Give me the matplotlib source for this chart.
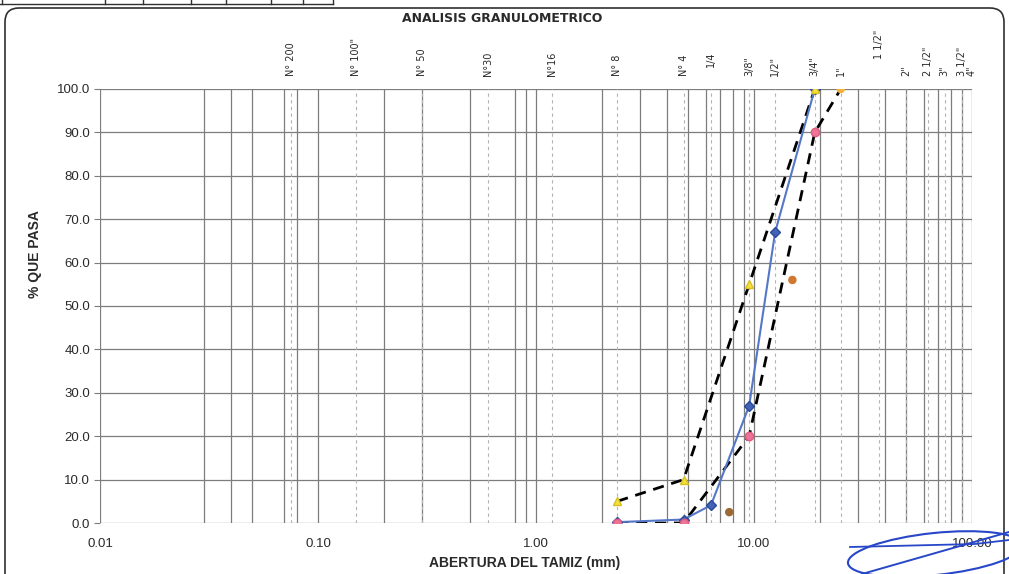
import matplotlib

matplotlib.use("Agg")
import matplotlib.pyplot as plt
from matplotlib.lines import Line2D
from matplotlib.patches import FancyBboxPatch, Ellipse
from matplotlib.ticker import FixedLocator, NullLocator

# sieve openings (mm) and their names
SIEVE_MM = [0.075, 0.15, 0.3, 0.6, 1.18, 2.36, 4.75, 6.35, 9.5, 12.5, 19.0, 25.0,
            37.5, 50.0, 63.0, 75.0, 90.0, 100.0]
SIEVE_NAME = ['N° 200', 'N° 100"', 'N° 50', 'N°30', 'N°16', 'N° 8', 'N° 4', '1/4',
              '3/8"', '1/2"', '3/4"', '1"', '1 1/2"', '2"', '2 1/2"', '3"', '3 1/2"', '4"']

# sample curve (% passing)
MUESTRA_MM = [2.36, 4.75, 6.35, 9.5, 12.5, 19.0]
MUESTRA_PCT = [0.2, 0.8, 4.1, 27.0, 67.0, 100.0]

# upper / lower limits of the spec band
SUP_MM = [2.36, 4.75, 9.5, 19.0]
SUP_PCT = [5.0, 10.0, 55.0, 100.0]
INF_MM = [2.36, 4.75, 9.5, 19.0, 25.0]
INF_PCT = [0.0, 0.0, 20.0, 90.0, 100.0]

# loose orange marks
EXTRA_MM = [7.7, 15.0, 25.0]
EXTRA_PCT = [2.5, 56.0, 100.0]
EXTRA_COL = ["#9c6a36", "#d2772e", "#f4b13a"]

Y_TICKS = [0, 10, 20, 30, 40, 50, 60, 70, 80, 90, 100]
X_TICKS = [0.01, 0.1, 1.0, 10.0, 100.0]
MINOR_GRID = [0.03, 0.04, 0.05, 0.07, 0.08, 0.2, 0.3, 0.5, 0.8, 0.9,
              2, 3, 4, 5, 6, 7, 8, 9, 20, 30, 40, 50, 60, 70, 80, 90]

GRID = "#7d7d7d"
SIEVE_GRID = "#b4b4b4"
TXT = "#2a2a2a"
NARROW = ["Liberation Sans Narrow", "DejaVu Sans"]
SANS = ["Liberation Sans", "DejaVu Sans"]

fig = plt.figure(figsize=(10.09, 5.74), dpi=100, facecolor="white")
ax = fig.add_axes((100 / 1009, 51 / 574, 872 / 1009, 434 / 574))

ax.set_xscale("log")
ax.set_xlim(0.01, 100)
ax.set_ylim(0, 100)

# grid
ax.xaxis.set_major_locator(FixedLocator(X_TICKS))
ax.xaxis.set_minor_locator(NullLocator())
ax.set_xticklabels([f"{v:.2f}" for v in X_TICKS])
ax.set_yticks(Y_TICKS)
ax.set_yticklabels([f"{v:.1f}" for v in Y_TICKS])
for v in Y_TICKS:
    ax.axhline(v, color=GRID, lw=0.9, zorder=1)
for v in X_TICKS + MINOR_GRID:
    ax.axvline(v, color=GRID, lw=0.9, zorder=1)
for v in SIEVE_MM:
    ax.axvline(v, color=SIEVE_GRID, lw=0.8, ls=(0, (3, 3)), zorder=1)

for s in ax.spines.values():
    s.set_visible(False)
ax.tick_params(axis="y", length=4, width=0.8, color=GRID, labelsize=9.5,
               labelcolor=TXT, pad=3)
ax.tick_params(axis="x", length=0, labelsize=9.5, labelcolor=TXT, pad=11)
for lab in ax.get_xticklabels() + ax.get_yticklabels():
    lab.set_family(SANS)

# curves
ax.plot(INF_MM, INF_PCT, color="black", lw=2.0, ls=(0, (4, 2.8)), zorder=3)
ax.plot(SUP_MM, SUP_PCT, color="black", lw=2.0, ls=(0, (4, 2.8)), zorder=3)
ax.plot(MUESTRA_MM, MUESTRA_PCT, color="#5577c8", lw=1.5, marker="D", ms=5,
        mfc="#4463b4", mec="#2d4a9a", zorder=4)
ax.plot(INF_MM[:-1], INF_PCT[:-1], ls="none", marker="o", ms=6,
        mfc="#ec7496", mec="#e05a80", zorder=5)
ax.plot(SUP_MM, SUP_PCT, ls="none", marker="^", ms=6,
        mfc="#f4df3c", mec="#d9c020", zorder=5)
ax.scatter(EXTRA_MM, EXTRA_PCT, c=EXTRA_COL, marker="o", s=26, zorder=5)

# sieve names above the plot
for mm, name in zip(SIEVE_MM, SIEVE_NAME):
    yb = 1.03
    if name == '1 1/2"':
        yb = 1.07
    elif name == '1/4':
        yb = 1.05
    ax.text(mm, yb, name, transform=ax.get_xaxis_transform(), rotation=90,
            ha="center", va="bottom", fontsize=7, color=TXT, family=NARROW)

ax.set_ylabel("% QUE PASA", fontsize=10, fontweight="bold", color=TXT,
              family=SANS, labelpad=14)
ax.yaxis.set_label_coords(-0.066, 0.62)
ax.set_xlabel("ABERTURA DEL TAMIZ (mm)", fontsize=10, fontweight="bold",
              color=TXT, family=SANS, labelpad=6)
ax.xaxis.set_label_coords(0.487, -0.075)

fig.text(502 / 1009, 1 - 19 / 574, "ANALISIS GRANULOMETRICO", ha="center",
         va="center", fontsize=9, fontweight="bold", color=TXT, family=NARROW)

# scanned sheet frame and header table stub
fig.add_artist(FancyBboxPatch((0.05, -0.3), 9.99, 5.96,
                              boxstyle="round,pad=0,rounding_size=0.14",
                              transform=fig.dpi_scale_trans, fill=False,
                              lw=1.2, ec="#303030"))
fig.add_artist(Line2D([0, 333 / 1009], [1 - 4 / 574] * 2, transform=fig.transFigure,
                      color="#303030", lw=1.0))
for px in [2, 105, 143, 191, 226, 271, 303, 333]:
    fig.add_artist(Line2D([px / 1009] * 2, [1 - 4 / 574, 1.0],
                          transform=fig.transFigure, color="#303030", lw=1.0))

# signature scribble
fig.add_artist(Ellipse((9.35, 0.2), 1.75, 0.42, angle=6, transform=fig.dpi_scale_trans,
                       fill=False, ec="#2747c8", lw=1.5))
fig.add_artist(Line2D([8.62, 10.09], [0.0, 0.42], transform=fig.dpi_scale_trans,
                      color="#2747c8", lw=1.4))
fig.add_artist(Line2D([8.5, 9.75, 10.09], [0.27, 0.3, 0.34], transform=fig.dpi_scale_trans,
                      color="#2747c8", lw=1.3))

fig.savefig("out.png", dpi=100, facecolor="white")
